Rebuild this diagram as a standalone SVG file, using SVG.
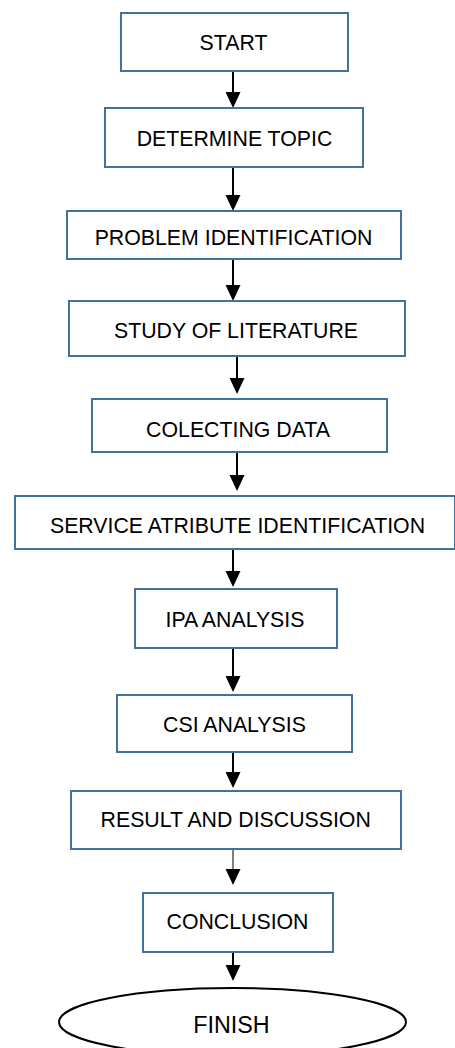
<svg xmlns="http://www.w3.org/2000/svg" width="455" height="1048" viewBox="0 0 455 1048">
<style>
.box{fill:#fff;stroke:#41719C;stroke-width:2}
.t{font-family:"Liberation Sans",Arial,sans-serif;font-size:21.3px;fill:#000;text-anchor:middle}
.c{stroke:#000;stroke-width:2;fill:none}
.c1{stroke:#000;stroke-width:1;fill:none}
</style>
<defs>
<polygon id="ah" points="-7.5,-16 7.5,-16 0,0" fill="#000"/>
</defs>
<rect width="455" height="1048" fill="#fff"/>
<g id="connectors">
<line class="c" x1="233" y1="71" x2="233" y2="94"/><use href="#ah" x="233" y="108"/>
<line class="c" x1="233" y1="167" x2="233" y2="197"/><use href="#ah" x="233" y="211"/>
<line class="c" x1="233" y1="259" x2="233" y2="287"/><use href="#ah" x="233" y="301"/>
<line class="c" x1="237" y1="356" x2="237" y2="380"/><use href="#ah" x="237" y="394"/>
<line class="c" x1="237" y1="452" x2="237" y2="477"/><use href="#ah" x="237" y="491"/>
<line class="c" x1="233" y1="549" x2="233" y2="573"/><use href="#ah" x="233" y="587"/>
<line class="c" x1="233" y1="648" x2="233" y2="678"/><use href="#ah" x="233" y="692"/>
<line class="c" x1="233" y1="752" x2="233" y2="774"/><use href="#ah" x="233" y="788"/>
<line class="c1" x1="233" y1="849" x2="233" y2="871"/><use href="#ah" x="233" y="885"/>
<line class="c" x1="233" y1="952" x2="233" y2="967"/><use href="#ah" x="233" y="981"/>
</g>
<g id="start"><rect class="box" x="121" y="13" width="227" height="58"/><text class="t" x="233.5" y="50">START</text></g>
<g id="determine"><rect class="box" x="105" y="108" width="258" height="59"/><text class="t" x="234.5" y="146">DETERMINE TOPIC</text></g>
<g id="problem"><rect class="box" x="67" y="211" width="334" height="48"/><text class="t" x="233.5" y="245">PROBLEM IDENTIFICATION</text></g>
<g id="study"><rect class="box" x="69" y="301" width="336" height="55"/><text class="t" x="236" y="338">STUDY OF LITERATURE</text></g>
<g id="collecting"><rect class="box" x="92" y="399" width="295" height="53"/><text class="t" x="238" y="437">COLECTING DATA</text></g>
<g id="service"><rect class="box" x="15" y="496" width="440" height="53"/><text class="t" x="237.5" y="533">SERVICE ATRIBUTE IDENTIFICATION</text></g>
<g id="ipa"><rect class="box" x="135" y="589" width="202" height="59"/><text class="t" x="235" y="627">IPA ANALYSIS</text></g>
<g id="csi"><rect class="box" x="117" y="695" width="235" height="57"/><text class="t" x="234.5" y="732">CSI ANALYSIS</text></g>
<g id="result"><rect class="box" x="71" y="791" width="330" height="58"/><text class="t" x="235.7" y="827">RESULT AND DISCUSSION</text></g>
<g id="conclusion"><rect class="box" x="143" y="893" width="190" height="59"/><text class="t" x="237.5" y="929">CONCLUSION</text></g>
<g id="finish"><ellipse cx="232.5" cy="1022" rx="173.5" ry="34" fill="#fff" stroke="#000" stroke-width="2"/><text class="t" x="231.5" y="1033" style="font-size:23.3px">FINISH</text></g>
</svg>
